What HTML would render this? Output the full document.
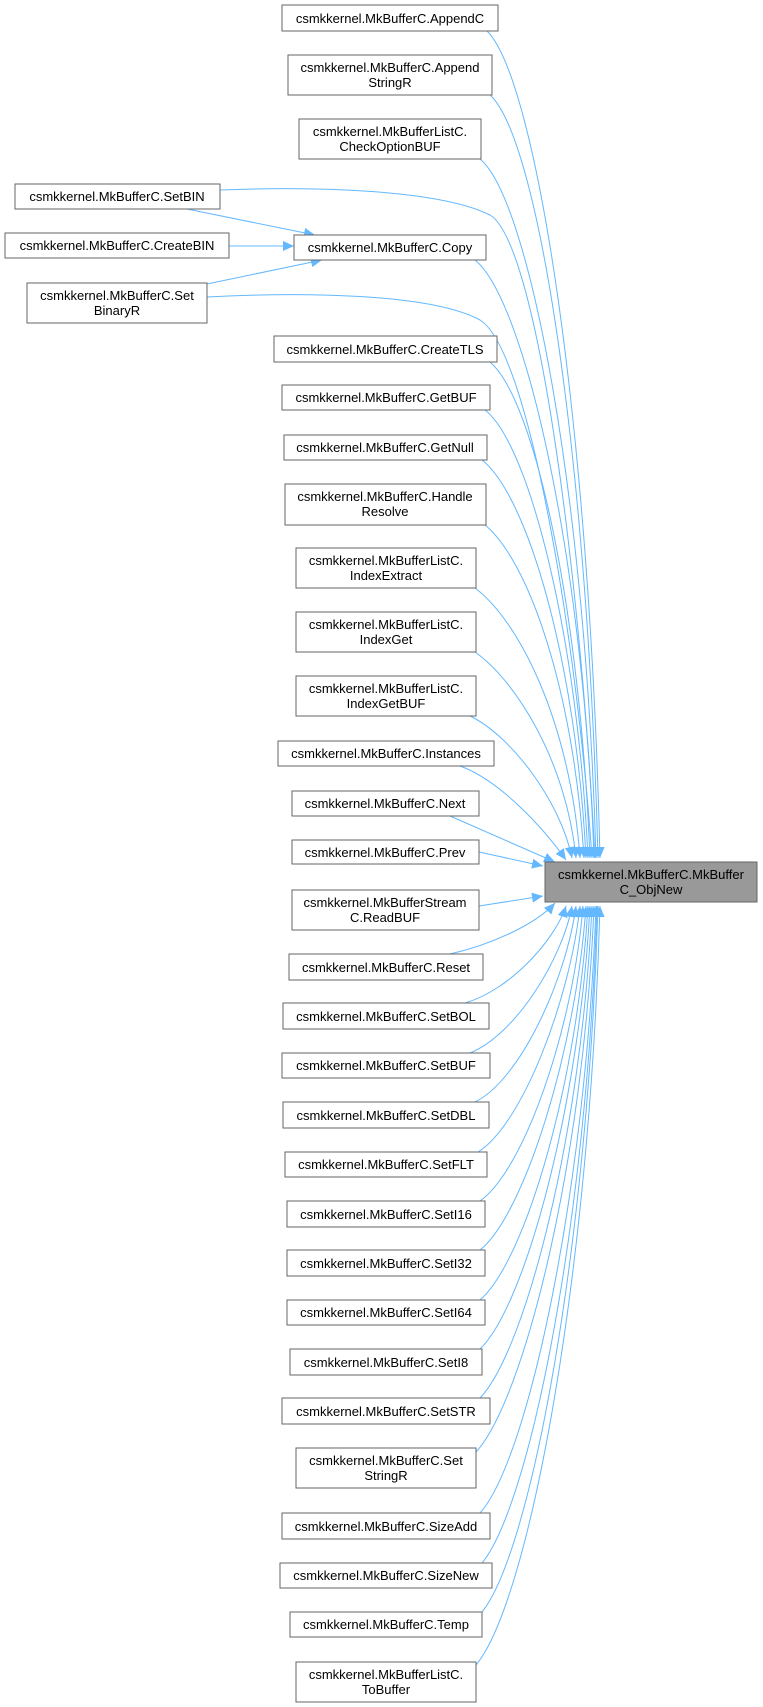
<!DOCTYPE html>
<html><head><meta charset="utf-8"><style>
html,body{margin:0;padding:0;background:#fff;}
svg{display:block;}
text{font-family:"Liberation Sans",Arial,sans-serif;font-size:13px;fill:#000;}
.n{fill:#fff;stroke:#666;stroke-width:1;}
.e{fill:none;stroke:#63b8ff;stroke-width:1;}
</style></head><body>
<svg width="763" height="1707" viewBox="0 0 763 1707" xmlns="http://www.w3.org/2000/svg">
<defs>
<marker id="a" markerUnits="userSpaceOnUse" markerWidth="12" markerHeight="12" refX="11" refY="5" orient="auto"><path d="M0,0 L11,5 L0,10 z" fill="#63b8ff"/></marker>
</defs>
<g class="e" marker-end="url(#a)">
<path d="M487,31 C537,80 590,429 600,858"/>
<path d="M490,95 C540,140 588,470 598,858"/>
<path d="M480,159 C530,200 586,500 596,858"/>
<path d="M220,190 C320,186 440,190 490,215 C540,245 582,600 595,858"/>
<path d="M475,260 C525,300 584,560 594,858"/>
<path d="M207,297 C300,292 430,293 480,320 C530,350 578,650 592,858"/>
<path d="M490,362 C535,400 580,610 590,858"/>
<path d="M485,410 C530,445 578,640 588,858"/>
<path d="M482,460 C527,495 576,660 586,858"/>
<path d="M485,525 C528,560 574,690 584,858"/>
<path d="M475,588 C518,620 570,720 580,858"/>
<path d="M475,652 C515,680 566,760 576,858"/>
<path d="M470,716 C510,735 560,800 572,858"/>
<path d="M460,766 C500,780 545,830 566,860"/>
<path d="M450,816 L555,862"/>
<path d="M479,852 L543,866"/>
<path d="M479,906 L543,896"/>
<path d="M450,954 C490,945 535,925 555,903"/>
<path d="M465,1003 C510,990 555,940 566,906"/>
<path d="M470,1053 C515,1035 562,960 572,906"/>
<path d="M475,1102 C520,1080 566,980 576,906"/>
<path d="M478,1152 C522,1125 570,1000 580,906"/>
<path d="M480,1201 C524,1170 573,1030 583,906"/>
<path d="M480,1250 C524,1215 576,1050 586,906"/>
<path d="M480,1300 C526,1260 578,1080 588,906"/>
<path d="M480,1349 C526,1305 580,1100 590,906"/>
<path d="M480,1398 C526,1350 582,1130 592,906"/>
<path d="M476,1452 C524,1400 584,1160 594,906"/>
<path d="M480,1513 C528,1460 586,1190 596,906"/>
<path d="M482,1563 C530,1505 587,1220 597,906"/>
<path d="M482,1612 C532,1550 588,1240 598,906"/>
<path d="M476,1665 C530,1600 590,1270 600,906"/>
<path d="M187,209 L315,235"/>
<path d="M229,246 L294,246"/>
<path d="M207,284 L322,260"/>
</g>
<g>
<rect class="n" x="282" y="5" width="216" height="26"/><text x="390" y="23" text-anchor="middle">csmkkernel.MkBufferC.AppendC</text>
<rect class="n" x="288" y="55" width="204" height="40"/><text x="390" y="72" text-anchor="middle">csmkkernel.MkBufferC.Append</text><text x="390" y="87" text-anchor="middle">StringR</text>
<rect class="n" x="299" y="119" width="182" height="40"/><text x="390" y="136" text-anchor="middle">csmkkernel.MkBufferListC.</text><text x="390" y="151" text-anchor="middle">CheckOptionBUF</text>
<rect class="n" x="15" y="184" width="205" height="25"/><text x="117" y="201" text-anchor="middle">csmkkernel.MkBufferC.SetBIN</text>
<rect class="n" x="5" y="233" width="224" height="25"/><text x="117" y="250" text-anchor="middle">csmkkernel.MkBufferC.CreateBIN</text>
<rect class="n" x="294" y="235" width="192" height="25"/><text x="390" y="252" text-anchor="middle">csmkkernel.MkBufferC.Copy</text>
<rect class="n" x="27" y="283" width="180" height="40"/><text x="117" y="300" text-anchor="middle">csmkkernel.MkBufferC.Set</text><text x="117" y="315" text-anchor="middle">BinaryR</text>
<rect class="n" x="274" y="336" width="223" height="26"/><text x="385" y="354" text-anchor="middle">csmkkernel.MkBufferC.CreateTLS</text>
<rect class="n" x="282" y="385" width="208" height="25"/><text x="386" y="402" text-anchor="middle">csmkkernel.MkBufferC.GetBUF</text>
<rect class="n" x="284" y="435" width="203" height="25"/><text x="385" y="452" text-anchor="middle">csmkkernel.MkBufferC.GetNull</text>
<rect class="n" x="285" y="484" width="201" height="41"/><text x="385" y="501" text-anchor="middle">csmkkernel.MkBufferC.Handle</text><text x="385" y="516" text-anchor="middle">Resolve</text>
<rect class="n" x="296" y="548" width="180" height="40"/><text x="386" y="565" text-anchor="middle">csmkkernel.MkBufferListC.</text><text x="386" y="580" text-anchor="middle">IndexExtract</text>
<rect class="n" x="296" y="612" width="180" height="40"/><text x="386" y="629" text-anchor="middle">csmkkernel.MkBufferListC.</text><text x="386" y="644" text-anchor="middle">IndexGet</text>
<rect class="n" x="296" y="676" width="180" height="40"/><text x="386" y="693" text-anchor="middle">csmkkernel.MkBufferListC.</text><text x="386" y="708" text-anchor="middle">IndexGetBUF</text>
<rect class="n" x="278" y="741" width="216" height="25"/><text x="386" y="758" text-anchor="middle">csmkkernel.MkBufferC.Instances</text>
<rect class="n" x="292" y="791" width="187" height="25"/><text x="385" y="808" text-anchor="middle">csmkkernel.MkBufferC.Next</text>
<rect class="n" x="292" y="840" width="187" height="24"/><text x="385" y="857" text-anchor="middle">csmkkernel.MkBufferC.Prev</text>
<rect class="n" x="292" y="890" width="187" height="40"/><text x="385" y="907" text-anchor="middle">csmkkernel.MkBufferStream</text><text x="385" y="922" text-anchor="middle">C.ReadBUF</text>
<rect class="n" x="289" y="954" width="194" height="26"/><text x="386" y="972" text-anchor="middle">csmkkernel.MkBufferC.Reset</text>
<rect class="n" x="283" y="1003" width="206" height="26"/><text x="386" y="1021" text-anchor="middle">csmkkernel.MkBufferC.SetBOL</text>
<rect class="n" x="282" y="1053" width="208" height="25"/><text x="386" y="1070" text-anchor="middle">csmkkernel.MkBufferC.SetBUF</text>
<rect class="n" x="283" y="1102" width="206" height="26"/><text x="386" y="1120" text-anchor="middle">csmkkernel.MkBufferC.SetDBL</text>
<rect class="n" x="285" y="1152" width="202" height="25"/><text x="386" y="1169" text-anchor="middle">csmkkernel.MkBufferC.SetFLT</text>
<rect class="n" x="287" y="1201" width="198" height="26"/><text x="386" y="1219" text-anchor="middle">csmkkernel.MkBufferC.SetI16</text>
<rect class="n" x="287" y="1250" width="198" height="26"/><text x="386" y="1268" text-anchor="middle">csmkkernel.MkBufferC.SetI32</text>
<rect class="n" x="287" y="1300" width="198" height="25"/><text x="386" y="1317" text-anchor="middle">csmkkernel.MkBufferC.SetI64</text>
<rect class="n" x="290" y="1349" width="192" height="26"/><text x="386" y="1367" text-anchor="middle">csmkkernel.MkBufferC.SetI8</text>
<rect class="n" x="282" y="1398" width="208" height="26"/><text x="386" y="1416" text-anchor="middle">csmkkernel.MkBufferC.SetSTR</text>
<rect class="n" x="296" y="1448" width="180" height="40"/><text x="386" y="1465" text-anchor="middle">csmkkernel.MkBufferC.Set</text><text x="386" y="1480" text-anchor="middle">StringR</text>
<rect class="n" x="282" y="1513" width="208" height="26"/><text x="386" y="1531" text-anchor="middle">csmkkernel.MkBufferC.SizeAdd</text>
<rect class="n" x="280" y="1563" width="212" height="25"/><text x="386" y="1580" text-anchor="middle">csmkkernel.MkBufferC.SizeNew</text>
<rect class="n" x="290" y="1612" width="192" height="25"/><text x="386" y="1629" text-anchor="middle">csmkkernel.MkBufferC.Temp</text>
<rect class="n" x="296" y="1662" width="180" height="40"/><text x="386" y="1679" text-anchor="middle">csmkkernel.MkBufferListC.</text><text x="386" y="1694" text-anchor="middle">ToBuffer</text>
<rect x="545" y="862" width="212" height="40" fill="#999" stroke="#666"/><text x="651" y="879" text-anchor="middle">csmkkernel.MkBufferC.MkBuffer</text><text x="651" y="894" text-anchor="middle">C_ObjNew</text>
</g>
</svg>
</body></html>
